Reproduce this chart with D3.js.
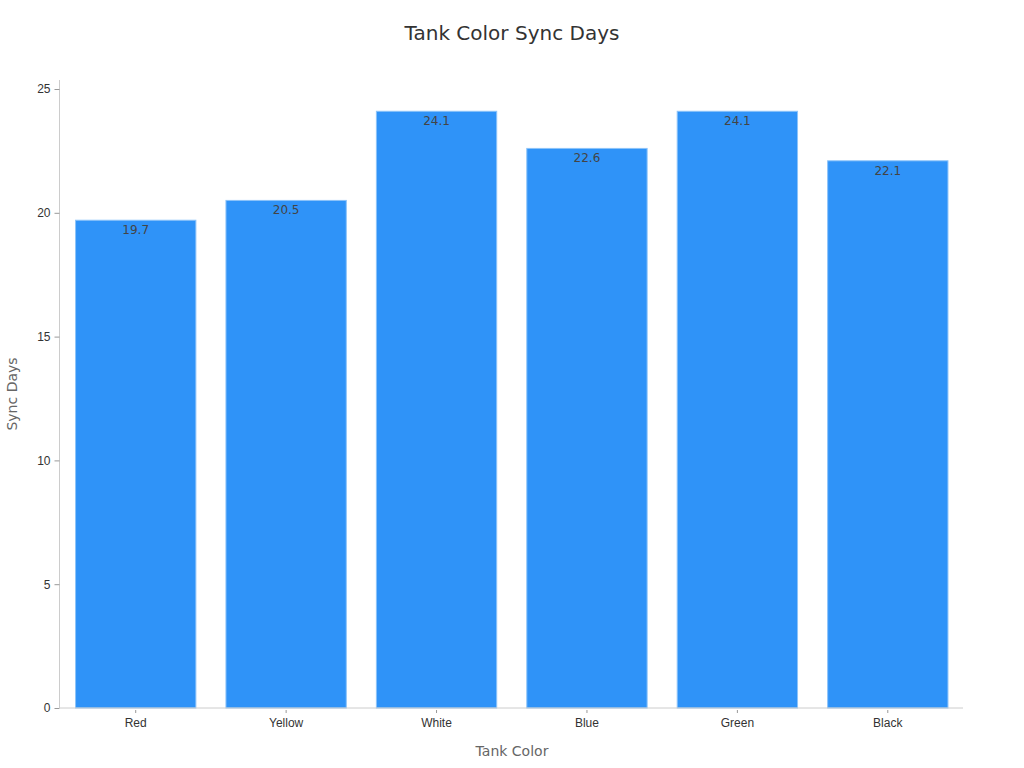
<!DOCTYPE html>
<html>
<head>
<meta charset="utf-8">
<script src="https://cdn.jsdelivr.net/npm/d3@7"></script>
<style>
  body { margin: 0; background: #fff; }
  svg { font-family: "DejaVu Sans", sans-serif; }
</style>
</head>
<body>
<svg id="chart" width="1024" height="768"></svg>
<script>
const colors = ["Red", "Yellow", "White", "Blue", "Green", "Black"];
const syncDays = [19.7, 20.5, 24.1, 22.6, 24.1, 22.1];
const yTicks = [0, 5, 10, 15, 20, 25];

const svg = d3.select("#chart");
const margin = { top: 80, right: 61, bottom: 60, left: 59.5 };
const width = 1024, height = 768;

// scales
const x = d3.scaleBand()
    .domain(colors)
    .range([margin.left + 1, width - margin.right])
    .paddingInner(0.2)
    .paddingOuter(0.1);

const y = d3.scaleLinear()
    .domain([0, 25])
    .range([708, 89]);

// title
svg.append("text")
    .attr("x", 512).attr("y", 40)
    .attr("text-anchor", "middle")
    .style("font-size", "20px")
    .style("fill", "#333")
    .text("Tank Color Sync Days");

// bars
svg.selectAll(".bar")
    .data(colors)
    .enter()
    .append("rect")
    .attr("class", "bar")
    .attr("x", d => x(d))
    .attr("y", (d, i) => y(syncDays[i]))
    .attr("width", x.bandwidth())
    .attr("height", (d, i) => y(0) - y(syncDays[i]))
    .style("fill", "#2f93f8")
    .style("stroke", "#8cc3f9")
    .style("stroke-width", 1);

// value labels
svg.selectAll(".lbl")
    .data(colors)
    .enter()
    .append("text")
    .attr("x", d => x(d) + x.bandwidth() / 2)
    .attr("y", (d, i) => y(syncDays[i]) + 14)
    .attr("text-anchor", "middle")
    .style("font-size", "12px")
    .style("fill", "#444")
    .text((d, i) => syncDays[i]);

// y axis
const yAxis = svg.append("g")
    .attr("transform", `translate(${margin.left},0)`)
    .call(d3.axisLeft(y).tickValues(yTicks).tickSize(5).tickPadding(4));
yAxis.select(".domain").attr("d", `M0,${margin.top}V${y(0)}`).style("stroke", "#ccc");
yAxis.selectAll(".tick line").style("stroke", "#999");
yAxis.selectAll(".tick text").style("font-size", "12px").style("fill", "#333");

// x axis
const xAxis = svg.append("g")
    .attr("transform", `translate(0,${y(0)})`)
    .call(d3.axisBottom(x).tickSize(0).tickPadding(10));
xAxis.select(".domain").attr("d", `M${margin.left},0H${width - margin.right}`).style("stroke", "#ccc");
xAxis.selectAll(".tick line").attr("y1", 2).attr("y2", 5).style("stroke", "#999");
xAxis.selectAll(".tick text").style("font-size", "12px").style("fill", "#333");

// axis titles
svg.append("text")
    .attr("x", 512).attr("y", 756)
    .attr("text-anchor", "middle")
    .style("font-size", "14px")
    .style("fill", "#666")
    .text("Tank Color");

svg.append("text")
    .attr("transform", "translate(17,394) rotate(-90)")
    .attr("text-anchor", "middle")
    .style("font-size", "14px")
    .style("fill", "#666")
    .text("Sync Days");
</script>
</body>
</html>
